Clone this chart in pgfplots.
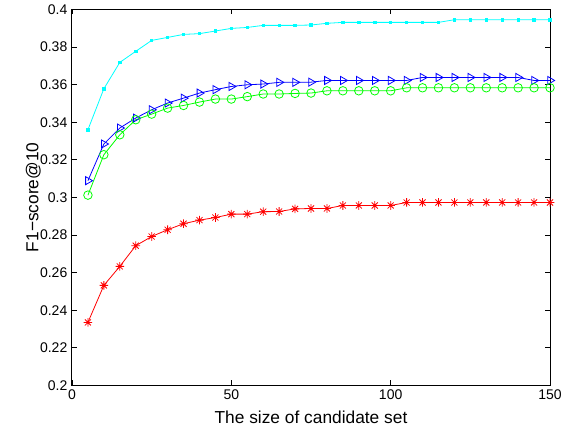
\documentclass[border=0pt]{standalone}
\usepackage{fontspec}
\setmainfont{Liberation Sans}
\usepackage{pgfplots}
\pgfplotsset{compat=1.18}
\definecolor{mcyan}{RGB}{0,255,255}
\definecolor{mblue}{RGB}{0,0,255}
\definecolor{mgreen}{RGB}{0,255,0}
\definecolor{mred}{RGB}{255,0,0}
\pgfdeclareplotmark{mstar}{%
  \pgfpathmoveto{\pgfqpoint{-\pgfplotmarksize}{0pt}}\pgfpathlineto{\pgfqpoint{\pgfplotmarksize}{0pt}}%
  \pgfpathmoveto{\pgfqpoint{0pt}{-\pgfplotmarksize}}\pgfpathlineto{\pgfqpoint{0pt}{\pgfplotmarksize}}%
  \pgfpathmoveto{\pgfqpoint{-.707\pgfplotmarksize}{-.707\pgfplotmarksize}}\pgfpathlineto{\pgfqpoint{.707\pgfplotmarksize}{.707\pgfplotmarksize}}%
  \pgfpathmoveto{\pgfqpoint{-.707\pgfplotmarksize}{.707\pgfplotmarksize}}\pgfpathlineto{\pgfqpoint{.707\pgfplotmarksize}{-.707\pgfplotmarksize}}%
  \pgfusepathqstroke}
\begin{document}
\begin{tikzpicture}
\begin{axis}[
  scale only axis,
  width=358.5pt, height=282pt,
  xmin=0, xmax=150, ymin=0.2, ymax=0.4,
  xtick={0,50,100,150},
  ytick={0.2,0.22,0.24,0.26,0.28,0.3,0.32,0.34,0.36,0.38,0.4},
  tick align=inside, tick pos=both,
  major tick length=3.75pt,
  axis line style={line width=0.75pt},
  tick style={line width=0.5pt, black},
  /pgf/number format/assume math mode=true,
  yticklabel style={/pgf/number format/fixed, /pgf/number format/precision=2, font=\fontsize{10.5}{12}\selectfont},
  xticklabel style={font=\fontsize{10.5}{12}\selectfont},
  xlabel={The size of candidate set},
  ylabel={F1−score@10},
  label style={font=\fontsize{13}{15}\selectfont},
  xlabel style={at={(axis description cs:0.5,0)}, anchor=base, yshift=-28.3pt},
  ylabel style={at={(axis description cs:-0.081,0.5)}, anchor=center},
  clip=false,
]
\coordinate (ll) at (rel axis cs:0,0);
\coordinate (ur) at (rel axis cs:1,1);
\addplot[color=mcyan, line width=0.6pt, mark=square*, mark size=0.9pt] coordinates {
(5,0.3360) (10,0.3578) (15,0.3718) (20,0.3777) (25,0.3835) (30,0.3851)
(35,0.3867) (40,0.3871) (45,0.3885) (50,0.3899) (55,0.3904) (60,0.3915)
(65,0.3915) (70,0.3915) (75,0.3917) (80,0.3926) (85,0.3931) (90,0.3931)
(95,0.3931) (100,0.3931) (105,0.3931) (110,0.3931) (115,0.3931) (120,0.3945)
(125,0.3945) (130,0.3945) (135,0.3945) (140,0.3945) (145,0.3945) (150,0.3945)
};
\addplot[color=mblue, line width=0.6pt, mark=triangle, mark size=3.5pt, mark options={rotate=-90}] coordinates {
(5,0.3089) (10,0.3284) (15,0.3369) (20,0.3422) (25,0.3466) (30,0.3502)
(35,0.3528) (40,0.3555) (45,0.3573) (50,0.3590) (55,0.3599) (60,0.3603)
(65,0.3612) (70,0.3612) (75,0.3613) (80,0.3622) (85,0.3622) (90,0.3622)
(95,0.3622) (100,0.3622) (105,0.3622) (110,0.3638) (115,0.3638) (120,0.3638)
(125,0.3638) (130,0.3638) (135,0.3638) (140,0.3638) (145,0.3622) (150,0.3622)
};
\addplot[color=mgreen, line width=0.6pt, mark=o, mark size=3.2pt] coordinates {
(5,0.3012) (10,0.3227) (15,0.3333) (20,0.3413) (25,0.3443) (30,0.3475)
(35,0.3489) (40,0.3507) (45,0.3523) (50,0.3523) (55,0.3536) (60,0.3550)
(65,0.3550) (70,0.3553) (75,0.3555) (80,0.3567) (85,0.3567) (90,0.3567)
(95,0.3567) (100,0.3567) (105,0.3583) (110,0.3583) (115,0.3583) (120,0.3583)
(125,0.3583) (130,0.3583) (135,0.3583) (140,0.3583) (145,0.3583) (150,0.3583)
};
\addplot[color=mred, line width=0.6pt, mark=mstar, mark size=3.2pt] coordinates {
(5,0.2335) (10,0.2532) (15,0.2633) (20,0.2743) (25,0.2792) (30,0.2828)
(35,0.2860) (40,0.2879) (45,0.2893) (50,0.2911) (55,0.2911) (60,0.2924)
(65,0.2925) (70,0.2939) (75,0.2941) (80,0.2941) (85,0.2957) (90,0.2957)
(95,0.2957) (100,0.2957) (105,0.2973) (110,0.2973) (115,0.2973) (120,0.2973)
(125,0.2973) (130,0.2973) (135,0.2973) (140,0.2973) (145,0.2973) (150,0.2973)
};
\end{axis}
\path[use as bounding box] ([shift={(-54pt,-34.5pt)}]ll) rectangle ([shift={(18pt,6pt)}]ur);
\end{tikzpicture}
\end{document}
